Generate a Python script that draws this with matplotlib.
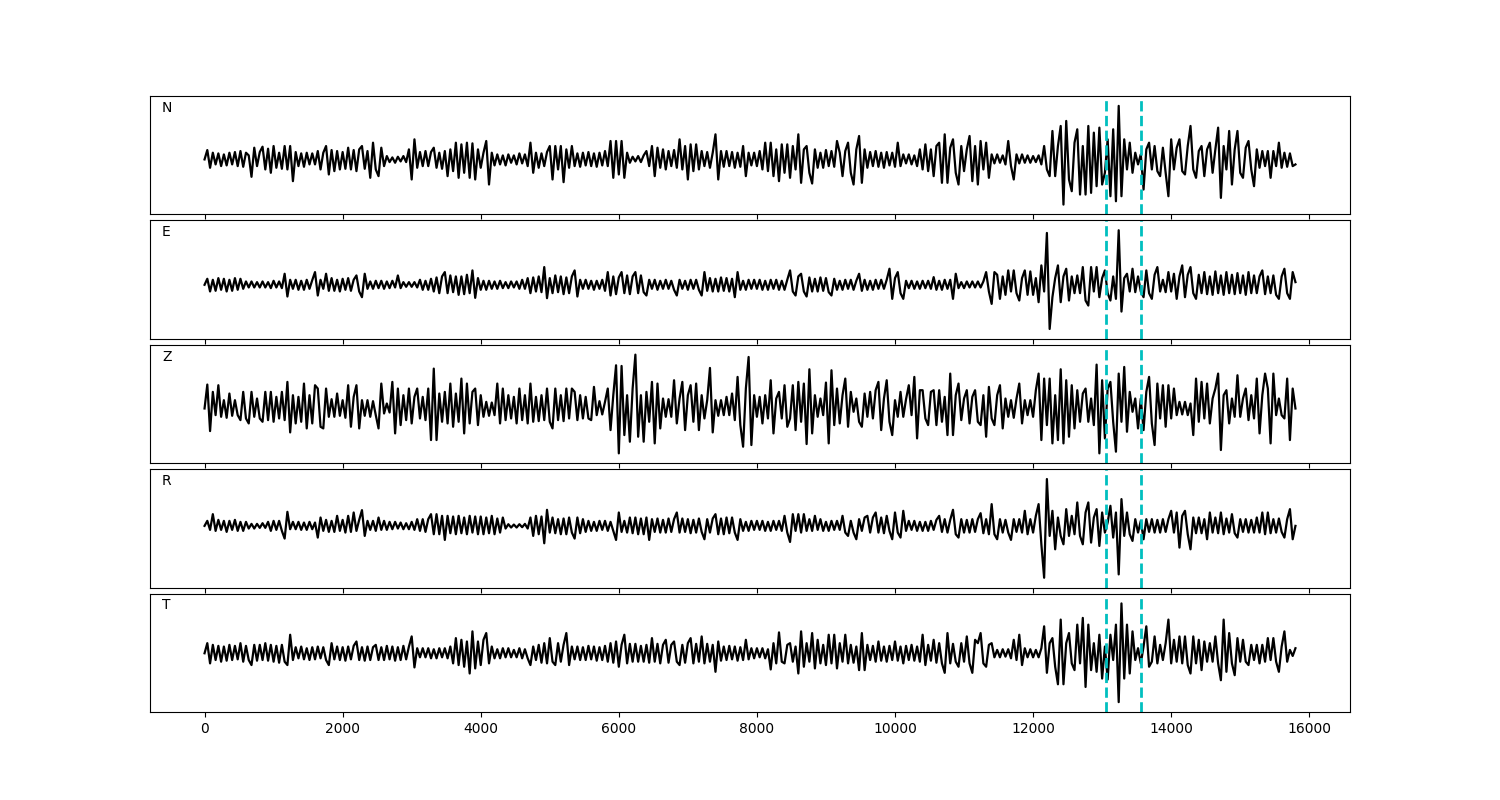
import numpy as np
import matplotlib
matplotlib.use("Agg")
from matplotlib import pyplot as plt

# sample spacing of the traces and pick times (samples)
dt = 40
picks = [13055, 13563]
labels = ['N', 'E', 'Z', 'R', 'T']

# amplitudes, one value every dt samples
N = [0, 28, -25, 20, -15, 18, -20, 15, -18, 20, -15, 22, -20, 25, -22, 20, 12, -52, 35, -20,
     22, 38, -30, 32, -40, 40, -25, 20, -28, 40, -30, 40, -65, 22, -20, 18, -22, 20, -15, 18,
     -15, 25, -30, 20, 40, -45, 28, -35, 25, -30, 22, -28, 35, -30, 28, -35, 30, 40, -28, 25,
     -55, 50, -30, -50, 35, -20, 10, -8, 6, -10, 8, -6, 10, -8, 30, -60, 60, -25, 22, -20,
     25, -20, 22, 35, -25, 20, -28, 25, -50, 30, -35, 50, -55, 45, -40, 50, -55, 48, -60, 30,
     -25, 20, 55, -75, 20, -18, 15, -15, 12, -18, 15, -10, 12, -15, 18, -12, 15, -20, 50, -40,
     20, -25, 18, -20, 22, 40, -60, 40, -30, 40, -68, 30, -25, 40, -20, 18, -22, 20, -18, 22,
     -20, 18, -22, 20, -18, 25, -20, 55, -55, 55, -45, 55, -55, 20, -10, 8, -6, 10, -8, 12,
     25, -20, 40, -50, 35, -25, 30, -30, 25, -20, 28, -25, 60, -30, 40, -60, 45, -35, 45, -30,
     25, -20, 22, -25, 20, 75, -60, 25, -22, 25, -20, 22, -25, 20, -22, 40, -50, 20, -18, 20,
     -20, 25, -30, 50, -35, 50, -50, 30, -65, 45, -40, 45, -55, 40, -30, 75, -70, 30, 40, -40,
     -72, 30, -25, 20, -25, 28, -20, 25, -22, 55, 20, -50, 25, 50, -40, -75, 30, 70, -70, 30,
     -25, 22, -20, 25, -22, 20, -25, 22, -18, 20, -22, 50, -20, 15, -12, 15, -15, 12, -20, 30,
     -30, 45, -35, 30, -50, 40, 50, -70, 75, -70, 35, 60, -40, -75, 40, -35, 30, 70, -65, 40,
     -75, 55, -30, 50, -55, 15, -12, 15, -10, 12, -15, 55, -20, -60, 15, -12, 15, -10, 12, -10,
     10, -8, 12, -15, 40, -30, -50, 85, -50, 40, 100, -135, 115, -60, -95, 50, 90, -105, 40, -105,
     100, -100, 80, -80, 95, -75, -40, 60, -110, 90, -125, 160, -110, 60, -30, 50, -40, 20, -15, 15,
     -90, 30, 50, -30, 40, -35, -50, 35, -40, -110, 60, -30, 35, 60, -35, -45, 40, 100, -30, -55,
     25, 40, -50, 30, 50, -40, 30, 95, -115, 40, -30, 85, -75, 30, 85, -40, -55, 35, 55, -30,
     -80, 30, -25, 25, -20, 25, -55, 25, -20, 50, -25, 20, -22, 18, -20, -15]

E = [0, 18, -20, 15, -18, 20, -15, 18, -20, 15, -18, 20, -15, 18, -12, 10, -8, 10, -8, 8,
     -8, 10, -8, 8, -10, 12, -8, 10, -10, 33, -35, 15, -12, 15, -15, 12, -15, 15, -12, 14,
     38, -32, 15, -12, 33, -18, 20, -18, 15, -20, 18, -15, 20, -18, 15, 28, -20, -37, 33, -12,
     10, -12, 12, -10, 12, -12, 10, -10, 12, -8, 28, -10, 8, -6, 8, -6, 8, -8, 15, -15,
     12, -15, 18, -20, 22, -25, 25, 38, -25, 28, -22, 25, -30, 25, -28, 30, -25, 43, -39, 20,
     -15, 12, -15, 12, -12, 10, -12, 12, -10, 8, -10, 10, -8, 10, -12, 15, -12, 20, -25, 22,
     -20, 25, -22, 53, -40, 20, -25, 28, -22, 25, -28, 22, -25, 25, 43, -35, 15, -12, 15, -12,
     12, -15, 12, -12, 15, -18, 38, -32, 25, -28, 22, 38, -25, 28, -28, 25, 38, -25, 28, -22,
     -32, 15, -12, 15, -15, 12, -12, 15, -12, 12, -15, -32, 15, -12, 12, -15, 15, -12, 15, -15,
     -32, 38, -18, 20, -20, 18, -20, 22, -18, 20, -20, 18, -37, 38, -15, 12, -15, 15, -12, 15,
     -12, 15, -15, 12, -15, 15, -12, 15, -15, 12, -15, 15, 43, -20, -32, 25, 33, -20, -35, 22,
     -20, 18, -20, 22, -18, 20, -22, -32, 18, -15, 12, -15, 15, -12, 15, -15, 12, 33, -18, 15,
     -15, 12, -15, 15, -12, 15, -12, 15, 48, -42, 20, 38, -25, -42, 12, -10, 12, -12, 10, -12,
     12, -10, 12, -12, 23, -15, 12, -15, 15, -12, 15, -42, 33, -10, 8, -10, 10, -8, 10, -8,
     10, -8, 10, 38, -20, -57, 38, 30, -42, 25, -30, 43, -20, 43, -25, -47, 20, 43, -30, 40,
     -30, 20, -52, 58, -20, 155, -132, -37, 20, 58, -52, 25, 48, -47, 25, -25, 28, -25, 53, -47,
     -62, 53, -20, 53, -37, 20, 43, -25, -47, 25, -42, 163, -80, 20, 33, -20, 48, -22, 25, -20,
     -37, 43, -25, -42, 30, 53, -20, 15, -22, 38, -20, 33, -42, 25, 58, -37, 30, 53, -25, -42,
     30, -25, 38, -28, 25, -30, 40, -25, 28, -30, 38, -25, 30, -28, 35, -25, 28, -30, 38, -25,
     28, -25, 25, 43, -28, 25, -25, 28, -30, -42, 25, 48, -25, -42, 38, 8]

Z = [0, 72, -68, 50, -20, 70, -25, 25, -28, 45, -22, 25, -20, -35, 50, -30, -45, 50, -25, 30,
     -30, -40, 50, -35, 50, -40, 35, -30, 50, -35, 80, -72, 40, -45, 35, -40, 75, -60, 40, -45,
     70, 60, -55, -60, 60, -25, 28, -25, 45, -22, 25, -28, 70, -55, 35, 70, -60, 25, -22, 25,
     -25, 22, -20, -60, 75, -15, 15, -12, 80, -75, 60, -50, 40, -35, 60, -45, 35, 60, -30, 35,
     -35, 60, -95, 120, -95, 45, -40, 50, -45, 75, -55, 45, -40, 90, -75, 75, -45, 50, 60, -50,
     40, -25, 20, -22, 18, -20, 75, -45, 60, -35, 40, -30, 35, -45, 60, -35, 40, -45, 75, -40,
     35, -38, 40, -35, 60, -40, -60, 60, -35, 40, -38, 60, -30, 60, 50, -35, 40, -30, 35, -30,
     -35, 65, -20, 22, -18, 20, 60, -65, 40, 130, -135, 128, -80, 40, -100, 60, 162, -85, 40, -100,
     50, -40, 80, -105, 75, -60, 30, -25, 28, -25, 85, -45, 30, 80, -65, 40, 70, -40, 75, -65,
     40, -30, 25, 122, -72, 25, -22, 25, -20, 35, -20, 45, -35, 95, -50, -115, 60, 155, -110, 40,
     -25, 35, -45, 40, -30, 85, -75, 30, 50, -30, 70, -55, -30, 70, -65, 80, -40, 75, -107, 118,
     -75, 40, -25, 30, -20, 78, -105, 115, -50, 60, -45, 40, 90, -55, 50, -10, 30, -40, -55, 45,
     -25, 50, -30, 55, 80, -65, 30, 85, -40, -80, 25, -25, 50, -25, 28, 70, -20, 95, -90, 55,
     55, -30, -50, 50, 55, -50, 55, -40, 35, -80, 105, -80, 40, 75, -35, 30, 55, -45, 35, 55,
     -40, -50, 40, -85, 65, -30, -50, 40, 70, -60, 30, -25, 25, -28, 30, 75, -45, 25, -20, 25,
     -25, 55, 105, -95, 90, -50, 90, -105, 40, -95, 118, -105, 85, -85, 70, -60, 55, -40, 45, 60,
     -40, 30, -50, 132, -135, 85, -90, 60, 80, -40, -130, 105, -40, 125, -70, 50, -10, 30, -60, 30,
     -65, 50, 95, -45, -110, 75, -30, 70, -55, 70, -30, 60, -20, 20, -18, 20, -20, 15, -80, 90,
     -40, 80, -30, 75, -45, 30, 60, 105, -125, 40, 55, -45, 30, -25, 100, -25, 30, 60, -35, 40,
     -30, 90, -75, 40, 105, 60, -105, 105, -20, 30, -20, -30, 90, -95, 60, 0]

R = [0, 15, -12, 35, -15, 18, -12, 15, -18, 15, -12, 18, -15, 12, -15, 12, -8, 6, -8, 6,
     -6, 8, -6, 12, -15, 15, -12, 15, -15, -38, 42, -10, 12, -10, 12, -12, 10, -12, 12, -10,
     10, -35, 25, -15, 18, -18, 15, -18, 30, -15, 18, -20, 30, -18, 40, -15, 18, 47, -30, 15,
     -12, 15, -15, 25, -12, 15, -12, 12, -10, 12, -8, 10, -10, 8, -10, 12, -12, 20, -15, 20,
     -18, 20, 35, -25, 35, -25, 30, -42, 30, -22, 28, -25, 30, -22, 25, -25, 30, -20, 28, -25,
     28, -25, 25, -22, 30, -25, 22, -20, 25, -8, 5, -5, 4, -5, 5, -4, 6, -8, 25, -30,
     30, -25, 28, -52, 48, -20, 25, -22, 20, -25, 22, -25, 25, -20, -38, 25, -22, 20, -18, 15,
     -15, 12, -15, 15, -12, 15, -15, 12, -15, -42, 40, -18, 15, -20, 25, -22, 25, -25, 22, -25,
     25, -42, 20, -18, 22, -20, 18, -20, 22, -18, 20, 40, -20, 22, -18, 20, -22, 18, -20, 22,
     -18, -40, 20, -20, 22, 35, -25, 22, -25, 25, -22, 25, -20, -42, 20, -15, 12, -15, 15, -12,
     15, -12, 15, -15, 12, -15, 15, -12, 15, -15, 30, -20, -48, 35, -15, 35, -20, 35, -15, 20,
     -15, 30, -12, 20, -15, 12, -15, 15, -12, 15, -12, 30, -20, -30, 15, -20, -40, 20, -15, 25,
     30, -20, 25, 40, -20, 25, -22, 30, -15, -40, 40, -20, -35, 45, -15, 15, -12, 15, -15, 12,
     -15, 12, -15, 15, -12, 18, 30, -18, 20, -20, 18, 48, -25, -35, 20, -20, 18, -20, 20, -18,
     20, 38, -22, 20, -25, 65, -25, -40, 20, -20, 18, -20, -42, 20, -18, 20, -20, 45, -25, 20,
     -20, 30, 65, -55, -155, 140, -30, 45, -70, 25, -30, -55, 50, -30, 30, -25, 70, -30, -55, 40,
     70, -50, 25, 50, -60, 40, -20, 10, 60, -35, 40, -145, 80, -30, 40, -25, -45, 20, -20, 15,
     -40, 20, -18, 20, -20, 18, -20, 20, -18, 20, 45, -20, 40, -65, 30, 45, -25, -70, 25, -22,
     25, -22, 20, -40, 40, -20, 25, -22, 40, -25, 22, -20, 35, -22, -35, 20, -18, 20, -20, 18,
     -20, 25, -20, 40, -25, 40, -22, 20, -20, 22, -18, -35, 20, 50, -40, 0]

T = [0, 30, -30, 25, -20, 22, -25, 20, -22, 25, -20, 22, -18, 30, -25, 22, -20, -35, 25, -22,
     25, -20, 30, -22, 25, -25, 22, -28, 25, -25, -35, 55, -20, 18, -15, 20, -18, 15, -20, 18,
     -18, 20, -15, 18, -20, -35, 30, -18, 20, -20, 18, -22, 20, -18, 22, 35, -20, 18, -22, 20,
     -20, 18, 25, -20, 18, -20, 22, -18, 20, -22, 18, -20, 22, -18, 20, 50, -42, 15, -12, 15,
     -12, 15, -15, 12, -15, 15, -12, 15, -15, 20, -30, 45, -35, 40, -40, 35, -60, 65, -45, 35,
     -35, 40, 60, -30, 20, -15, 12, -15, 15, -12, 15, -12, 10, -12, 15, -15, 12, -15, -35, 20,
     -20, 25, -28, 30, -30, 45, -25, -35, 30, -25, 25, 60, -35, 20, -18, 20, -20, 18, -20, 22,
     -18, 20, -22, 18, -20, 22, -25, 30, -28, 35, -40, 25, 55, -30, 28, -25, 28, -25, 22, -25,
     25, -28, 45, -25, 28, -30, 25, 40, -28, 25, 35, -25, -35, 25, -28, 30, 45, -30, 28, -25,
     50, -30, 28, -25, 25, -55, 35, -22, 20, -20, 22, -18, 20, -22, 18, -20, 40, -18, 15, -15,
     15, -12, 15, -15, 12, -48, 30, -30, 62, -25, -30, 25, 30, -25, 20, -60, 65, -40, 30, -25,
     60, -45, 40, -30, 25, -35, 55, -30, 55, -45, 30, -25, 55, -30, 25, -28, 20, -50, 60, -50,
     25, -20, 22, -25, 35, -22, 20, -25, 22, -20, 35, -22, 20, -30, 22, -20, 25, -22, 20, -25,
     55, -35, 25, -22, 40, -28, 30, -30, -58, 60, -30, 28, -25, -40, 30, -25, 50, -30, -58, 40,
     30, 60, -30, -40, 25, 30, -12, 10, -12, 12, -10, 12, -15, 40, -20, 55, -35, 15, -12, 12,
     -12, 10, -12, 15, 80, -58, 30, 45, -40, -92, 100, -92, 30, 60, -30, -50, 85, -30, 105, -100,
     85, -50, 30, -55, 55, -75, 20, -78, 55, -20, 85, -145, 148, -75, 85, -60, 65, -20, 15, -30,
     20, 80, -40, -25, 50, -30, 25, -20, 30, 100, -30, 40, -25, 50, -30, 50, -35, -60, 50, -30,
     40, -50, 35, -25, 30, -25, 50, -30, -80, 100, -55, 60, -30, -65, 45, -25, 40, -25, -35, 25,
     -20, 25, -30, 25, -25, 45, -20, 45, -25, -55, 20, 65, -25, 10, -8, 15]

traces = [N, E, Z, R, T]

fig, axes = plt.subplots(5, 1, sharex=True, figsize=(15, 8))
plt.subplots_adjust(left=0.1, right=0.9, top=0.88, bottom=0.11, hspace=0.05)

for ax, tr, lab in zip(axes, traces, labels):
    x = np.arange(len(tr)) * dt
    ax.plot(x, tr, 'k', lw=1.6)
    for p in picks:
        ax.axvline(p, color='c', ls='--', lw=2)
    ax.margins(y=0.1)
    ax.set_yticks([])
    ax.text(0.01, 0.9, lab, transform=ax.transAxes, va='center')

axes[-1].set_xticks(np.arange(0, 16001, 2000))

plt.savefig('out.png', dpi=100)
